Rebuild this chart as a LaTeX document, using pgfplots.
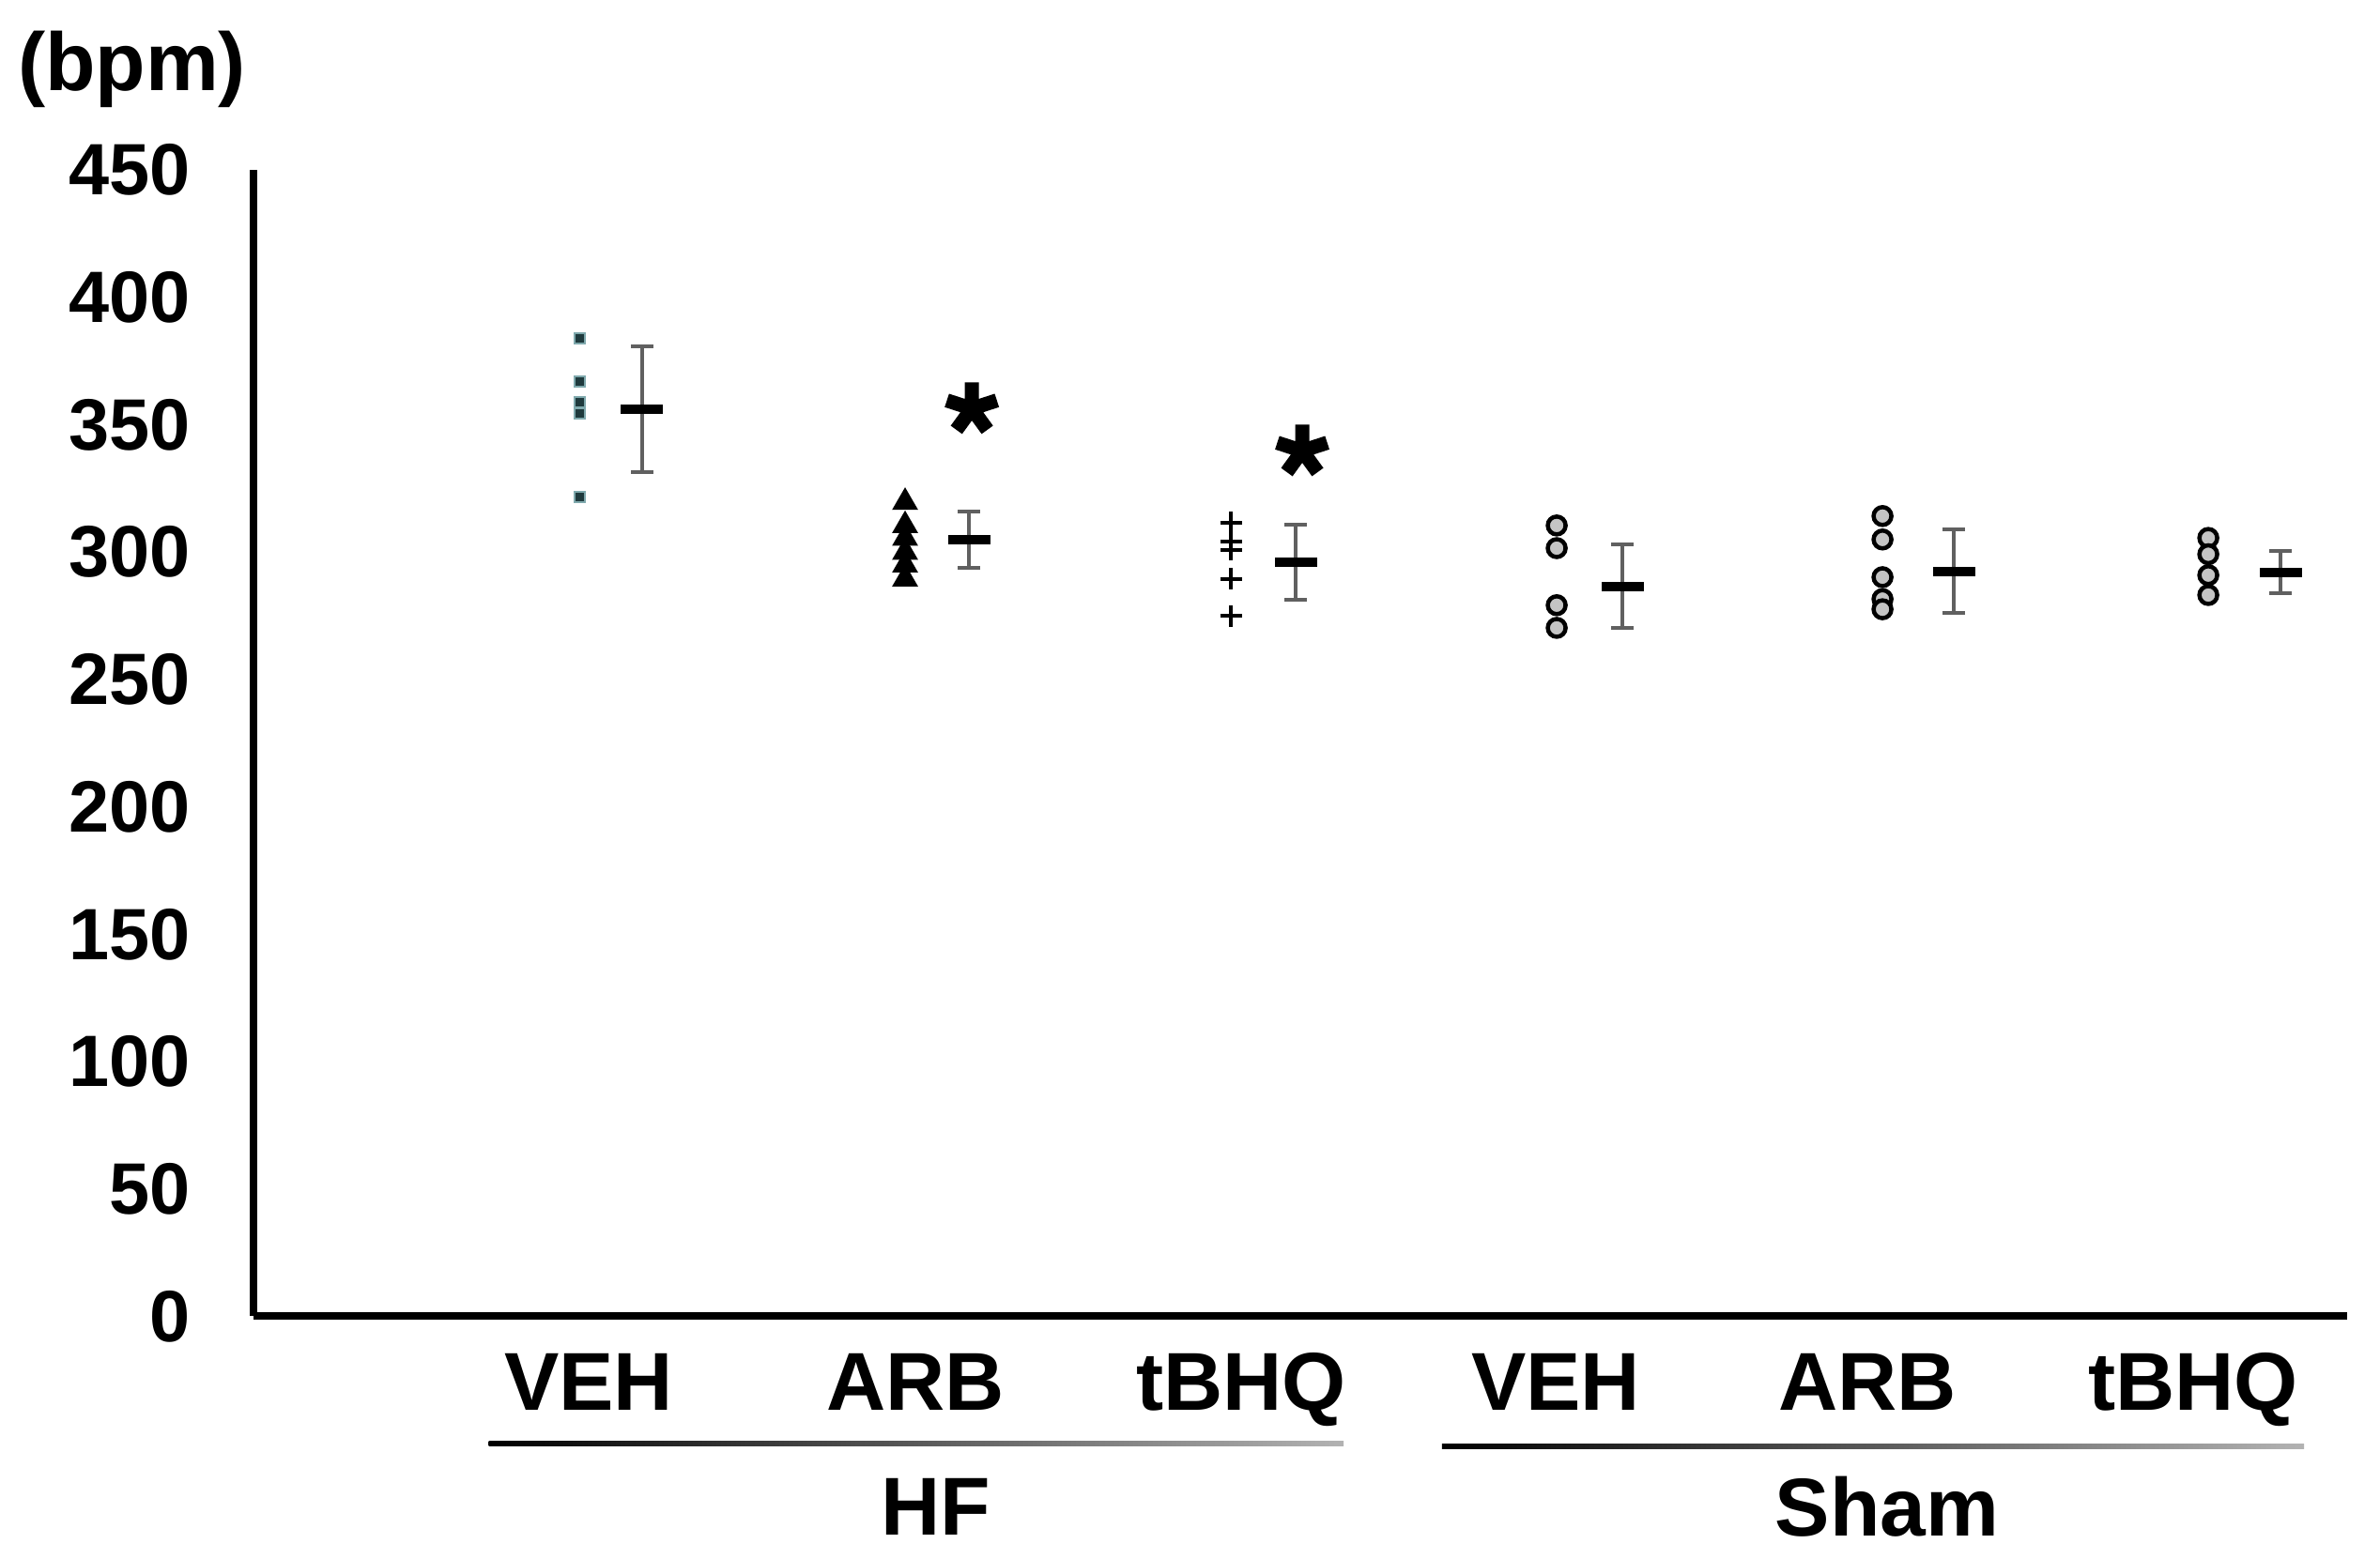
\documentclass[border=0pt]{standalone}
\usepackage{pgfplots}
\pgfplotsset{compat=1.18}
\usepackage{fontspec}
\setmainfont{Liberation Sans}
\definecolor{errgray}{HTML}{606060}
\definecolor{vehdot}{HTML}{1F3A3D}
\definecolor{vehhalo}{HTML}{7FA9AD}
\definecolor{circfill}{HTML}{C4C4C4}

\begin{document}
\begin{tikzpicture}
\begin{axis}[
  scale only axis,
  width=446pt, height=244.2pt,
  xmin=0, xmax=6.427, ymin=0, ymax=450,
  axis x line*=bottom, axis y line*=left,
  axis line style={line width=1.6pt, -},
  xtick={1.029,2.032,3.032,3.997,4.954,5.954},
  xticklabels={VEH,ARB,tBHQ,VEH,ARB,tBHQ},
  ytick={0,50,...,450},
  major tick length=0pt,
  tick style={draw=none},
  /pgf/number format/assume math mode=true,
  xticklabel style={font=\fontsize{17.5}{21}\selectfont\bfseries, anchor=base, yshift=-20pt},
  yticklabel style={font=\fontsize{15.5}{19}\selectfont\bfseries, anchor=east, inner sep=0pt, xshift=-13.3pt},
  ylabel={(bpm)},
  ylabel style={font=\fontsize{17.5}{21}\selectfont\bfseries, rotate=-90,
                at={(axis description cs:-0.058,1.088)}, anchor=center},
  clip=false,
]
% HF VEH
\addplot[only marks, mark=square*, mark size=1.1pt,
         mark options={draw=vehhalo, fill=vehdot, line width=0.4pt}]
  coordinates {(1,384) (1,367) (1,359) (1,354.5) (1,321.6)};
% HF ARB
\addplot[only marks, mark=triangle*, mark size=2.8pt, mark options={black}]
  coordinates {(2,319.6) (2,310.5) (2,305.5) (2,300) (2,295) (2,289.5)};
% HF tBHQ
\addplot[only marks, mark=+, mark size=2.3pt, mark options={black, line width=0.8pt}]
  coordinates {(3,311.7) (3,304) (3,301) (3,289.6) (3,274.9)};
% Sham groups
\addplot[only marks, mark=*, mark size=1.9pt,
         mark options={draw=black, fill=circfill, line width=0.9pt}]
  coordinates {(4,310.5) (4,301.6) (4,279.2) (4,270.3)
               (5,314.2) (5,305) (5,290.2) (5,281.6) (5,277.6)
               (6,305.6) (6,299.2) (6,291) (6,283.2)};
% mean +- SD
\addplot[only marks, mark=-, mark size=4.5pt, mark options={line width=2pt, black},
         error bars/.cd, y dir=both, y explicit,
         error bar style={line width=0.8pt, errgray},
         error mark options={rotate=90, mark size=2.4pt, line width=0.8pt, errgray}]
  coordinates {
    (1.193,356)   +- (0,24.7)
    (2.196,305)   +- (0,11)
    (3.199,296)   +- (0,14.7)
    (4.202,286.6) +- (0,16.4)
    (5.219,292.4) +- (0,16.4)
    (6.222,292.2) +- (0,8.2)
  };
% significance stars
\addplot[only marks, mark=star, mark size=5.6pt, mark options={line width=3pt, black}]
  coordinates {(2.205,356.4) (3.219,339.8)};

% group brackets
\shade[left color=black, right color=gray!60] (axis cs:0.722,-49.1) rectangle (axis cs:3.346,-50.9);
\shade[left color=black, right color=gray!60] (axis cs:3.648,-50.3) rectangle (axis cs:6.294,-52.1);
\node[font=\fontsize{17.5}{21}\selectfont\bfseries] at (axis cs:2.095,-74.8) {HF};
\node[font=\fontsize{17.5}{21}\selectfont\bfseries] at (axis cs:5.014,-74.8) {Sham};

\coordinate (bbl) at (axis cs:-0.778,-95.1);
\coordinate (btr) at (axis cs:6.527,516.8);
\end{axis}
\pgfresetboundingbox
\path[use as bounding box] (bbl) rectangle (btr);
\end{tikzpicture}
\end{document}
